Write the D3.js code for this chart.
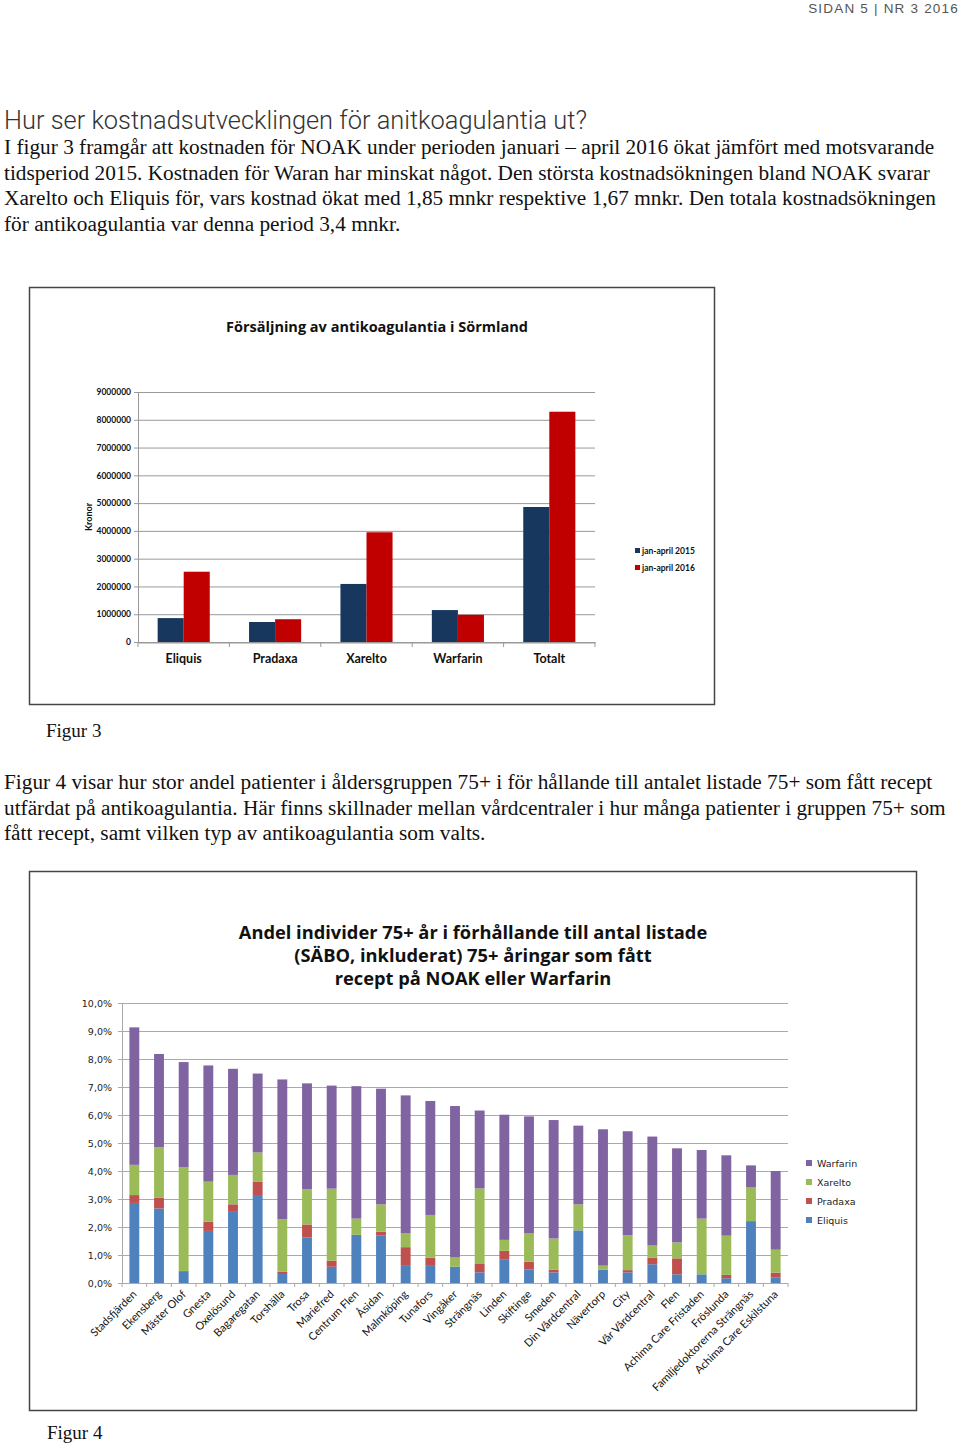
<!DOCTYPE html>
<html>
<head>
<meta charset="utf-8">
<script src="https://cdn.jsdelivr.net/npm/d3@7"></script>
<style>
  html, body { margin: 0; padding: 0; background: #fff; }
  svg { display: block; }
</style>
</head>
<body>
<svg id="page" width="960" height="1444"></svg>
<script>
// ---- figur 3 data ----
const drugs = ["Eliquis", "Pradaxa", "Xarelto", "Warfarin", "Totalt"];
const sales2015 = [860000, 720000, 2090000, 1150000, 4860000];
const sales2016 = [2530000, 820000, 3950000, 980000, 8290000];
const salesTicks = [0, 1000000, 2000000, 3000000, 4000000, 5000000, 6000000, 7000000, 8000000, 9000000];
const periods = ["jan-april 2015", "jan-april 2016"];

// ---- figur 4 data (andel i %) ----
const centres = [
  "Stadsfjärden", "Ekensberg", "Mäster Olof", "Gnesta", "Oxelösund", "Bagaregatan",
  "Torshälla", "Trosa", "Mariefred", "Centrum Flen", "Åsidan", "Malmköping",
  "Tunafors", "Vingåker", "Strängnäs", "Linden", "Skiftinge", "Smeden",
  "Din Vårdcentral", "Nävertorp", "City", "Vår Vårdcentral", "Flen",
  "Achima Care Fristaden", "Fröslunda", "Familjedoktorerna Strängnäs", "Achima Care Eskilstuna"
];
const eliquis  = [2.86, 2.66, 0.40, 1.86, 2.54, 3.11, 0.32, 1.63, 0.58, 1.72, 1.69, 0.64, 0.64, 0.58, 0.38, 0.83, 0.48, 0.38, 1.88, 0.48, 0.38, 0.67, 0.31, 0.31, 0.17, 2.21, 0.19];
const pradaxa  = [0.28, 0.38, 0.03, 0.33, 0.27, 0.50, 0.08, 0.46, 0.22, 0.00, 0.14, 0.64, 0.26, 0.00, 0.30, 0.32, 0.28, 0.10, 0.00, 0.00, 0.08, 0.23, 0.57, 0.00, 0.12, 0.00, 0.18];
const xarelto  = [1.08, 1.81, 3.71, 1.43, 1.05, 1.05, 1.88, 1.26, 2.57, 0.58, 0.98, 0.49, 1.53, 0.33, 2.70, 0.39, 1.01, 1.11, 0.93, 0.14, 1.25, 0.44, 0.57, 1.99, 1.40, 1.20, 0.82];
const warfarin = [4.91, 3.33, 3.75, 4.15, 3.79, 2.82, 4.99, 3.78, 3.68, 4.73, 4.13, 4.93, 4.07, 5.41, 2.78, 4.47, 4.18, 4.23, 2.81, 4.87, 3.71, 3.89, 3.36, 2.45, 2.87, 0.79, 2.81];
const pctTicks = [0, 1, 2, 3, 4, 5, 6, 7, 8, 9, 10];
const drugKeys = ["Eliquis", "Pradaxa", "Xarelto", "Warfarin"];

const svg = d3.select("#page");
const serif = "'Liberation Serif', 'Times New Roman', serif";
const sans = "Lato, 'Open Sans', sans-serif";
const titleFont = "'Open Sans', Lato, sans-serif";
const verd = "'DejaVu Sans', Verdana, sans-serif";

// ---- page text ----
svg.append("text")
  .attr("x", 959).attr("y", 13)
  .attr("text-anchor", "end")
  .attr("font-family", "'Liberation Sans', Arial, sans-serif")
  .attr("font-size", 13.5)
  .attr("letter-spacing", 1.2)
  .attr("fill", "#555")
  .text("SIDAN 5 | NR 3 2016");

svg.append("text")
  .attr("x", 4).attr("y", 129)
  .attr("font-family", "Roboto, 'Liberation Sans', sans-serif")
  .attr("font-weight", 300)
  .attr("font-size", 25.4)
  .attr("fill", "#333")
  .text("Hur ser kostnadsutvecklingen för anitkoagulantia ut?");

function paragraph(lines, x, y0, lh, size) {
  svg.append("g").selectAll("text")
    .data(lines)
    .join("text")
    .attr("x", x)
    .attr("y", (d, i) => y0 + i * lh)
    .attr("font-family", serif)
    .attr("font-size", size)
    .attr("fill", "#111")
    .text((d) => d);
}

paragraph([
  "I figur 3 framgår att kostnaden för NOAK under perioden januari – april 2016 ökat jämfört med motsvarande",
  "tidsperiod 2015. Kostnaden för Waran har minskat något. Den största kostnadsökningen bland NOAK svarar",
  "Xarelto och Eliquis för, vars kostnad ökat med 1,85 mnkr respektive 1,67 mnkr. Den totala kostnadsökningen",
  "för antikoagulantia var denna period 3,4 mnkr."
], 4, 154, 25.7, 21.3);

paragraph(["Figur 3"], 46, 737, 0, 19);

paragraph([
  "Figur 4 visar hur stor andel patienter i åldersgruppen 75+ i för hållande till antalet listade 75+ som fått recept",
  "utfärdat på antikoagulantia. Här finns skillnader mellan vårdcentraler i hur många patienter i gruppen 75+ som",
  "fått recept, samt vilken typ av antikoagulantia som valts."
], 4, 789, 25.7, 21.3);

paragraph(["Figur 4"], 47, 1439, 0, 19);

// =============== Figur 3 ===============
const f3 = svg.append("g");
f3.append("rect")
  .attr("x", 29.5).attr("y", 287.5).attr("width", 685).attr("height", 417)
  .attr("fill", "#fff").attr("stroke", "#444").attr("stroke-width", 1.5);

f3.append("text")
  .attr("x", 377).attr("y", 332)
  .attr("text-anchor", "middle")
  .attr("font-family", titleFont).attr("font-weight", 700).attr("font-size", 14.5)
  .attr("fill", "#111")
  .text("Försäljning av antikoagulantia i Sörmland");

const m1 = { left: 138, right: 595, top: 392, bottom: 642 };
const x3 = d3.scaleBand().domain(drugs).range([m1.left, m1.right]);
const x3inner = d3.scaleBand().domain(periods)
  .range([x3.bandwidth() * 0.215, x3.bandwidth() * 0.785]);
const y3 = d3.scaleLinear().domain([0, 9000000]).range([m1.bottom, m1.top]);

f3.append("g").selectAll("line")
  .data(salesTicks)
  .join("line")
  .attr("x1", m1.left - 4).attr("x2", m1.right)
  .attr("y1", (d) => y3(d) + 0.5).attr("y2", (d) => y3(d) + 0.5)
  .attr("stroke", "#999").attr("stroke-width", 1);

const yAx3 = f3.append("g")
  .attr("transform", `translate(${m1.left},0)`)
  .call(d3.axisLeft(y3).tickValues(salesTicks).tickSize(0).tickPadding(7).tickFormat(d3.format("d")));
yAx3.select(".domain").attr("stroke", "#999");
yAx3.selectAll("text")
  .attr("font-family", sans).attr("font-weight", 700).attr("font-size", 8.5).attr("fill", "#111");

f3.append("text")
  .attr("transform", `translate(92,517) rotate(-90)`)
  .attr("text-anchor", "middle")
  .attr("font-family", sans).attr("font-weight", 700).attr("font-size", 9)
  .attr("fill", "#111")
  .text("Kronor");

const seriesColors3 = ["#17375e", "#c00000"];
const rows3 = drugs.map((d, i) => ({ drug: d, values: [sales2015[i], sales2016[i]] }));
f3.append("g").selectAll("g")
  .data(rows3)
  .join("g")
  .attr("transform", (d) => `translate(${x3(d.drug)},0)`)
  .selectAll("rect")
  .data((d) => d.values.map((v, j) => ({ period: periods[j], v, j })))
  .join("rect")
  .attr("x", (d) => x3inner(d.period))
  .attr("width", x3inner.bandwidth())
  .attr("y", (d) => y3(d.v))
  .attr("height", (d) => y3(0) - y3(d.v))
  .attr("fill", (d) => seriesColors3[d.j]);

const xAx3 = f3.append("g")
  .attr("transform", `translate(0,${m1.bottom + 0.5})`)
  .call(d3.axisBottom(x3).tickSize(0).tickPadding(12));
xAx3.select(".domain").attr("stroke", "#999");
xAx3.selectAll("text")
  .attr("font-family", sans).attr("font-weight", 700).attr("font-size", 12.5).attr("fill", "#111");
f3.append("g").selectAll("line")
  .data(drugs.map((d) => x3(d)).concat([m1.right]))
  .join("line")
  .attr("x1", (d) => d).attr("x2", (d) => d)
  .attr("y1", m1.bottom).attr("y2", m1.bottom + 5)
  .attr("stroke", "#999");

const lg3 = f3.append("g").selectAll("g")
  .data(periods)
  .join("g")
  .attr("transform", (d, i) => `translate(635,${551 + i * 17})`);
lg3.append("rect").attr("x", 0).attr("y", -3).attr("width", 5).attr("height", 5)
  .attr("fill", (d, i) => seriesColors3[i]);
lg3.append("text").attr("x", 7).attr("y", 3)
  .attr("font-family", sans).attr("font-weight", 700).attr("font-size", 8.5).attr("fill", "#111")
  .text((d) => d);

// =============== Figur 4 ===============
const f4 = svg.append("g");
f4.append("rect")
  .attr("x", 29.5).attr("y", 871.5).attr("width", 887).attr("height", 539)
  .attr("fill", "#fff").attr("stroke", "#444").attr("stroke-width", 1.5);

f4.append("g").selectAll("text")
  .data([
    "Andel individer 75+ år i förhållande till antal listade",
    "(SÄBO, inkluderat) 75+ åringar som fått",
    "recept på NOAK eller Warfarin"
  ])
  .join("text")
  .attr("x", 473).attr("y", (d, i) => 938.5 + i * 23)
  .attr("text-anchor", "middle")
  .attr("font-family", titleFont).attr("font-weight", 700).attr("font-size", 18.3)
  .attr("fill", "#111")
  .text((d) => d);

const m2 = { left: 122, right: 788, top: 1003, bottom: 1283 };
const x4 = d3.scaleBand().domain(centres).range([m2.left, m2.right])
  .paddingInner(0.6).paddingOuter(0.3);
const y4 = d3.scaleLinear().domain([0, 10]).range([m2.bottom, m2.top]);
const colors4 = d3.scaleOrdinal().domain(drugKeys)
  .range(["#4f81bd", "#c0504d", "#9bbb59", "#8064a2"]);

f4.append("g").selectAll("line")
  .data(pctTicks)
  .join("line")
  .attr("x1", m2.left - 4).attr("x2", m2.right)
  .attr("y1", (d) => y4(d) + 0.5).attr("y2", (d) => y4(d) + 0.5)
  .attr("stroke", "#aaa").attr("stroke-width", 1);

const yAx4 = f4.append("g")
  .attr("transform", `translate(${m2.left},0)`)
  .call(d3.axisLeft(y4).tickValues(pctTicks).tickSize(0).tickPadding(10)
    .tickFormat((d) => d3.format(".1f")(d).replace(".", ",") + "%"));
yAx4.select(".domain").attr("stroke", "#aaa");
yAx4.selectAll("text")
  .attr("font-family", verd).attr("font-size", 9.5).attr("fill", "#222");

const rows4 = centres.map((c, i) => ({
  centre: c, Eliquis: eliquis[i], Pradaxa: pradaxa[i], Xarelto: xarelto[i], Warfarin: warfarin[i]
}));
const stacked = d3.stack().keys(drugKeys)(rows4);

f4.append("g").selectAll("g")
  .data(stacked)
  .join("g")
  .attr("fill", (d) => colors4(d.key))
  .selectAll("rect")
  .data((d) => d)
  .join("rect")
  .attr("x", (d) => x4(d.data.centre))
  .attr("width", x4.bandwidth())
  .attr("y", (d) => y4(d[1]))
  .attr("height", (d) => y4(d[0]) - y4(d[1]));

f4.append("line")
  .attr("x1", m2.left).attr("x2", m2.right)
  .attr("y1", m2.bottom + 0.5).attr("y2", m2.bottom + 0.5)
  .attr("stroke", "#aaa");
f4.append("g").selectAll("line")
  .data(centres.map((c) => x4(c) + x4.bandwidth() / 2 - x4.step() / 2).concat([m2.right]))
  .join("line")
  .attr("x1", (d) => d).attr("x2", (d) => d)
  .attr("y1", m2.bottom).attr("y2", m2.bottom + 4)
  .attr("stroke", "#aaa");

f4.append("g").selectAll("text")
  .data(centres)
  .join("text")
  .attr("transform", (d) => `translate(${x4(d) + x4.bandwidth() / 2 + 3},${m2.bottom + 12}) rotate(-45)`)
  .attr("text-anchor", "end")
  .attr("font-family", sans).attr("font-size", 11).attr("fill", "#111")
  .text((d) => d);

const lg4 = f4.append("g").selectAll("g")
  .data(drugKeys.slice().reverse())
  .join("g")
  .attr("transform", (d, i) => `translate(806,${1163 + i * 19})`);
lg4.append("rect").attr("x", 0).attr("y", -3).attr("width", 6).attr("height", 6)
  .attr("fill", (d) => colors4(d));
lg4.append("text").attr("x", 11).attr("y", 3.5)
  .attr("font-family", verd).attr("font-size", 9.5).attr("fill", "#222")
  .text((d) => d);
</script>
</body>
</html>
